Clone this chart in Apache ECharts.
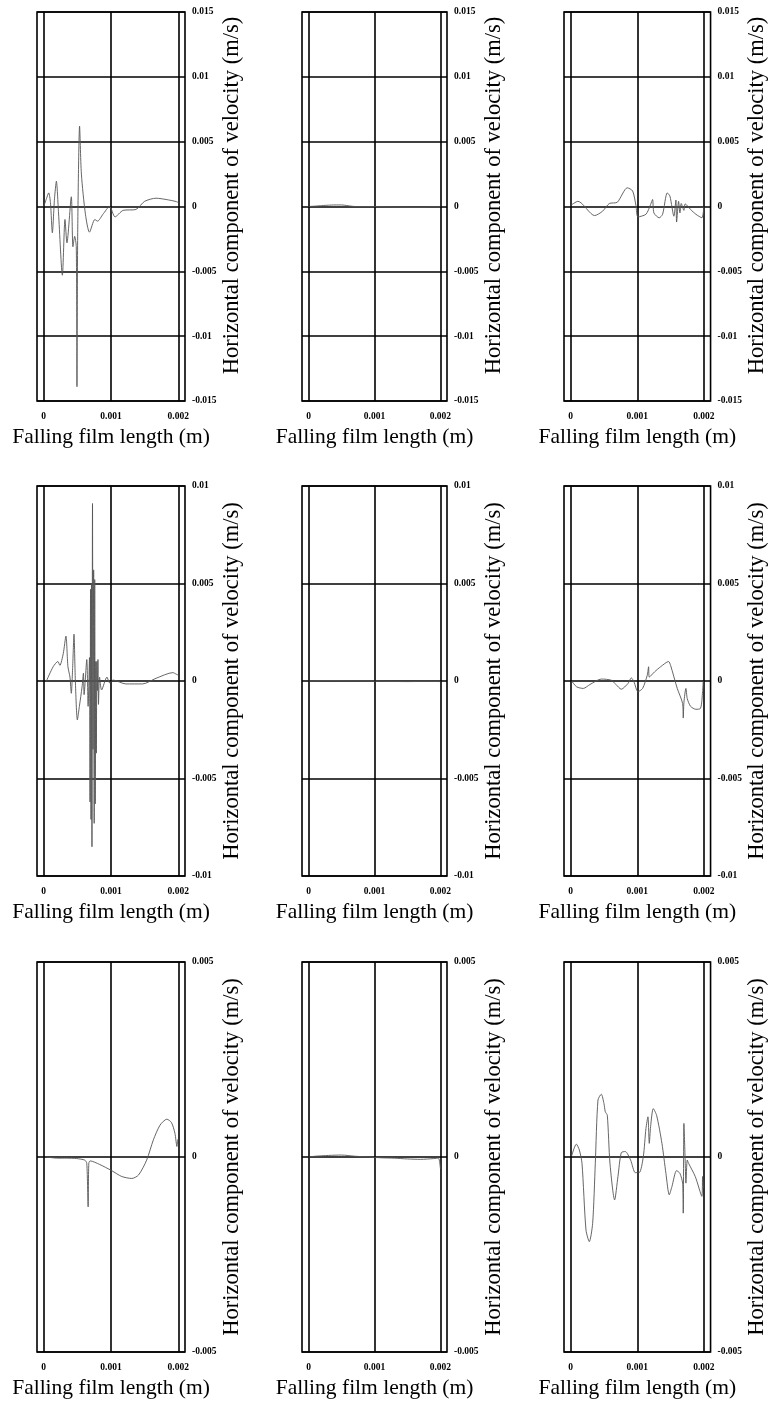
<!DOCTYPE html>
<html>
<head>
<meta charset="utf-8">
<script src="https://cdn.jsdelivr.net/npm/echarts@6/dist/echarts.min.js"></script>
<style>
  html, body { margin: 0; padding: 0; background: #fff; }
  #chart { width: 770px; height: 1403px; }
</style>
</head>
<body>
<div id="chart"></div>
<script>
// Horizontal velocity component along the falling film, 3 x 3 panels.
// Each panel: [film length (m), horizontal velocity (m/s)].

const xTickValues = [0, 0.001, 0.002];
const xTickLabels = ['0', '0.001', '0.002'];
const rowLimits = [0.015, 0.01, 0.005];   // symmetric y range per row
const yStep = 0.005;

const xTitle = 'Falling film length (m)';
const yTitle = 'Horizontal component of velocity (m/s)';

// Row 1
const panel1 = [
  [0, 0], [0.00004, 0.0006], [0.000074, 0.00105], [0.0001, 0.0003], [0.000128, -0.00203],
  [0.00016, 0.0006], [0.000188, 0.00195], [0.00022, -0.0005], [0.000277, -0.0053],
  [0.000316, -0.001], [0.000345, -0.0028], [0.00041, 0.00075], [0.000434, -0.0031],
  [0.00046, -0.0023], [0.000484, -0.0031], [0.000494, -0.0139], [0.000505, -0.002],
  [0.000533, 0.0062], [0.00056, 0.0025], [0.00062, -0.0006], [0.00068, -0.00198],
  [0.00076, -0.001], [0.0008, -0.00113], [0.00088, -0.0006], [0.00098, 0],
  [0.00106, -0.0008], [0.00118, -0.0003], [0.00137, -0.00023], [0.0015, 0.0004],
  [0.00167, 0.00064], [0.00182, 0.00054], [0.00197, 0.00038], [0.002, 0.0003]
];
const panel2 = [
  [0, 0], [0.0001, 0.00003], [0.0002, 0.00007], [0.0003, 0.0001], [0.0004, 0.00012],
  [0.0005, 0.00012], [0.0006, 0.00006], [0.0007, 0], [0.0009, 0], [0.0011, -0.00002],
  [0.0013, -0.00004], [0.0015, -0.00006], [0.0017, -0.00006], [0.0019, -0.00003],
  [0.00198, -0.00005], [0.002, 0]
];
const panel3 = [
  [0, 0.00008], [0.00011, 0.0004], [0.00036, -0.0007], [0.00048, -0.00036],
  [0.00058, 0.00023], [0.0007, 0.00033], [0.00085, 0.00144], [0.00093, 0.0012],
  [0.00098, 0.00008], [0.00101, -0.0008], [0.00113, -0.0006], [0.0012, 0.00015],
  [0.00123, 0.00054], [0.00125, -0.0005], [0.00133, -0.00087], [0.00138, -0.0006],
  [0.00145, 0.00105], [0.00149, 0.0008], [0.00155, -0.00075], [0.00158, 0.0005],
  [0.00159, -0.0012], [0.00162, 0.0004], [0.00164, -0.0005], [0.00166, 0.00023],
  [0.0017, -0.0003], [0.00172, 0.0002], [0.0018, -0.00023], [0.00188, -0.0006],
  [0.00197, -0.00087], [0.002, 0]
];

// Row 2
const panel4 = [
  [0.00004, 0], [0.00014, 0.00073], [0.00021, 0.001], [0.00024, 0.0008], [0.00029, 0.0014],
  [0.00033, 0.0023], [0.00036, 0.00073], [0.00039, 0.0002], [0.00041, -0.00063],
  [0.00043, 0.0007], [0.00045, 0.0024], [0.00047, 0], [0.0005, -0.002], [0.00053, -0.0013],
  [0.00057, -0.0003], [0.00059, 0.0004], [0.0006, -0.0007], [0.00064, 0.0011],
  [0.00066, -0.0013], [0.00068, 0.0012], [0.000688, -0.0062], [0.000696, 0.0047],
  [0.000703, -0.0071], [0.00071, 0.005], [0.000717, -0.0085], [0.000725, 0.0091],
  [0.000733, -0.0035], [0.000742, 0.0057], [0.00075, -0.0073], [0.000758, 0.0052],
  [0.000766, -0.0063], [0.000774, 0.001], [0.000782, -0.0037], [0.00079, 0.001],
  [0.000798, -0.0005], [0.000806, 0.0011], [0.000814, -0.0012], [0.00083, 0.0002],
  [0.00086, -0.00046], [0.00094, 0.0002], [0.00098, -0.0001], [0.00103, 0.00005],
  [0.00122, -0.00015], [0.00147, -0.00015], [0.00167, 0.00014], [0.00192, 0.00043],
  [0.00197, 0.00035], [0.002, 0.0003]
];
const panel5 = [
  [0, 0], [0.0003, 0.00002], [0.0006, 0.00001], [0.0009, 0], [0.0012, -0.00002],
  [0.0015, -0.00003], [0.0018, -0.00002], [0.002, -0.00003]
];
const panel6 = [
  [0.000015, 0], [0.00009, -0.0003], [0.00019, -0.00038], [0.00029, -0.00018],
  [0.00046, 0.0001], [0.00061, 0.00004], [0.00068, -0.00018], [0.00076, -0.00042],
  [0.00086, -0.00013], [0.00091, 0.00016], [0.00095, -0.00004], [0.00101, -0.00055],
  [0.00108, -0.00038], [0.00115, 0.0003], [0.00117, 0.00073], [0.00118, 0.0002],
  [0.00126, 0.00047], [0.00135, 0.00073], [0.00147, 0.001], [0.0015, 0.0008],
  [0.0016, -0.00038], [0.00168, -0.00115], [0.00169, -0.0019], [0.0017, -0.0011],
  [0.00173, -0.00038], [0.00175, -0.0009], [0.0018, -0.0013], [0.00188, -0.00145],
  [0.00195, -0.0014], [0.00198, -0.00055], [0.00199, 0]
];

// Row 3
const panel7 = [
  [0.00004, 0], [0.00021, -0.00003], [0.00034, -0.00003], [0.00049, -0.00004],
  [0.00061, -0.00008], [0.00064, -0.00016], [0.00066, -0.00128], [0.00067, -0.00016],
  [0.00069, -0.0001], [0.00083, -0.00019], [0.00101, -0.00035], [0.00116, -0.0005],
  [0.00131, -0.00055], [0.00141, -0.00046], [0.00153, -0.00008], [0.00163, 0.00044],
  [0.00173, 0.00082], [0.00183, 0.00097], [0.0019, 0.00088], [0.00195, 0.00061],
  [0.00198, 0.00027], [0.00199, 0.00045]
];
const panel8 = [
  [0, 0], [0.0001, 0.00002], [0.0003, 0.00004], [0.0005, 0.00005], [0.0007, 0.00002],
  [0.0009, 0], [0.0011, -0.00002], [0.0013, -0.00003], [0.0015, -0.00005],
  [0.0017, -0.00006], [0.0019, -0.00004], [0.00197, -0.00003], [0.00199, -0.00015],
  [0.002, -0.0003]
];
const panel9 = [
  [0.000015, 0.00003], [0.000085, 0.00033], [0.00013, 0.00018], [0.00017, -0.00016],
  [0.00023, -0.00187], [0.00028, -0.00217], [0.00033, -0.0017], [0.00037, -0.00016],
  [0.00041, 0.00146], [0.00046, 0.00161], [0.0005, 0.00137], [0.00052, 0.00116],
  [0.00055, 0.00107], [0.00059, -0.00016], [0.00066, -0.0011], [0.00071, -0.0005],
  [0.00076, 0.00011], [0.00082, 0.00014], [0.0009, -0.00008], [0.00097, -0.0004],
  [0.00103, -0.0004], [0.00109, 0], [0.00113, 0.00073], [0.00116, 0.00103],
  [0.00118, 0.00035], [0.0012, 0.00078], [0.00124, 0.00124], [0.00129, 0.00107],
  [0.00137, 0.00035], [0.00143, -0.00042], [0.00148, -0.00097], [0.00152, -0.00076],
  [0.00159, -0.00035], [0.00164, -0.00042], [0.00168, -0.00067], [0.00169, -0.00144],
  [0.0017, 0.00086], [0.00172, -0.00016], [0.00173, -0.00067], [0.00175, -0.00008],
  [0.00177, -0.00016], [0.00187, -0.0005], [0.00197, -0.00101], [0.00198, -0.0005],
  [0.00199, -0.0008]
];

const panels = [panel1, panel2, panel3, panel4, panel5, panel6, panel7, panel8, panel9];

// Page layout of the 3 x 3 plot boxes
const colLeft = [37, 302, 564];
const colWidth = [148, 145, 147];
const rowTop = [12, 486, 962];
const rowHeight = [389, 390, 390];
// extra padding that nudges the vertical title along its axis, per row
const yTitlePad = [[0, 0, 0, 22], [0, 0, 0, 0], [0, 0, 0, 0]];

const serif = '"Liberation Serif", "DejaVu Serif", serif';
const ink = '#000';

const grids = [], xAxes = [], yAxes = [], series = [];
panels.forEach((data, i) => {
  const r = Math.floor(i / 3), c = i % 3;
  const lim = rowLimits[r];
  grids.push({
    left: colLeft[c], top: rowTop[r], width: colWidth[c], height: rowHeight[r],
    show: true, borderColor: ink, borderWidth: 1.6, backgroundColor: '#fff'
  });
  xAxes.push({
    type: 'value', gridIndex: i, min: -0.0001, max: 0.0021,
    axisLine: { show: false },
    axisTick: { show: false, customValues: xTickValues },
    axisLabel: {
      customValues: xTickValues,
      formatter: v => xTickLabels[xTickValues.findIndex(t => Math.abs(t - v) < 1e-9)] ?? '',
      margin: 11, color: ink, fontFamily: serif, fontWeight: 'bold', fontSize: 9.5
    },
    splitLine: { show: true, lineStyle: { color: ink, width: 1.6 } },
    name: xTitle, nameLocation: 'middle', nameGap: 25,
    nameTextStyle: { color: ink, fontFamily: serif, fontSize: 21.5 }
  });
  yAxes.push({
    type: 'value', gridIndex: i, position: 'right',
    min: -lim, max: lim, interval: yStep,
    axisLine: { show: false },
    axisTick: { show: false },
    axisLabel: {
      margin: 7, color: ink, fontFamily: serif, fontWeight: 'bold', fontSize: 9.5,
      formatter: v => (Math.abs(v) < 1e-12 ? '0' : String(+v.toFixed(3)))
    },
    splitLine: { show: true, lineStyle: { color: ink, width: 1.6 } },
    name: yTitle, nameLocation: 'middle', nameRotate: 90, nameGap: 31,
    nameTextStyle: { color: ink, fontFamily: serif, fontSize: 22.5, padding: yTitlePad[r] }
  });
  series.push({
    type: 'line', xAxisIndex: i, yAxisIndex: i, data: data,
    showSymbol: false, smooth: 0.25, silent: true,
    lineStyle: { color: '#555', width: 0.9 }
  });
});

const chart = echarts.init(document.getElementById('chart'), null, { renderer: 'canvas' });
chart.setOption({
  animation: false,
  backgroundColor: '#fff',
  grid: grids,
  xAxis: xAxes,
  yAxis: yAxes,
  series: series
});
</script>
</body>
</html>
